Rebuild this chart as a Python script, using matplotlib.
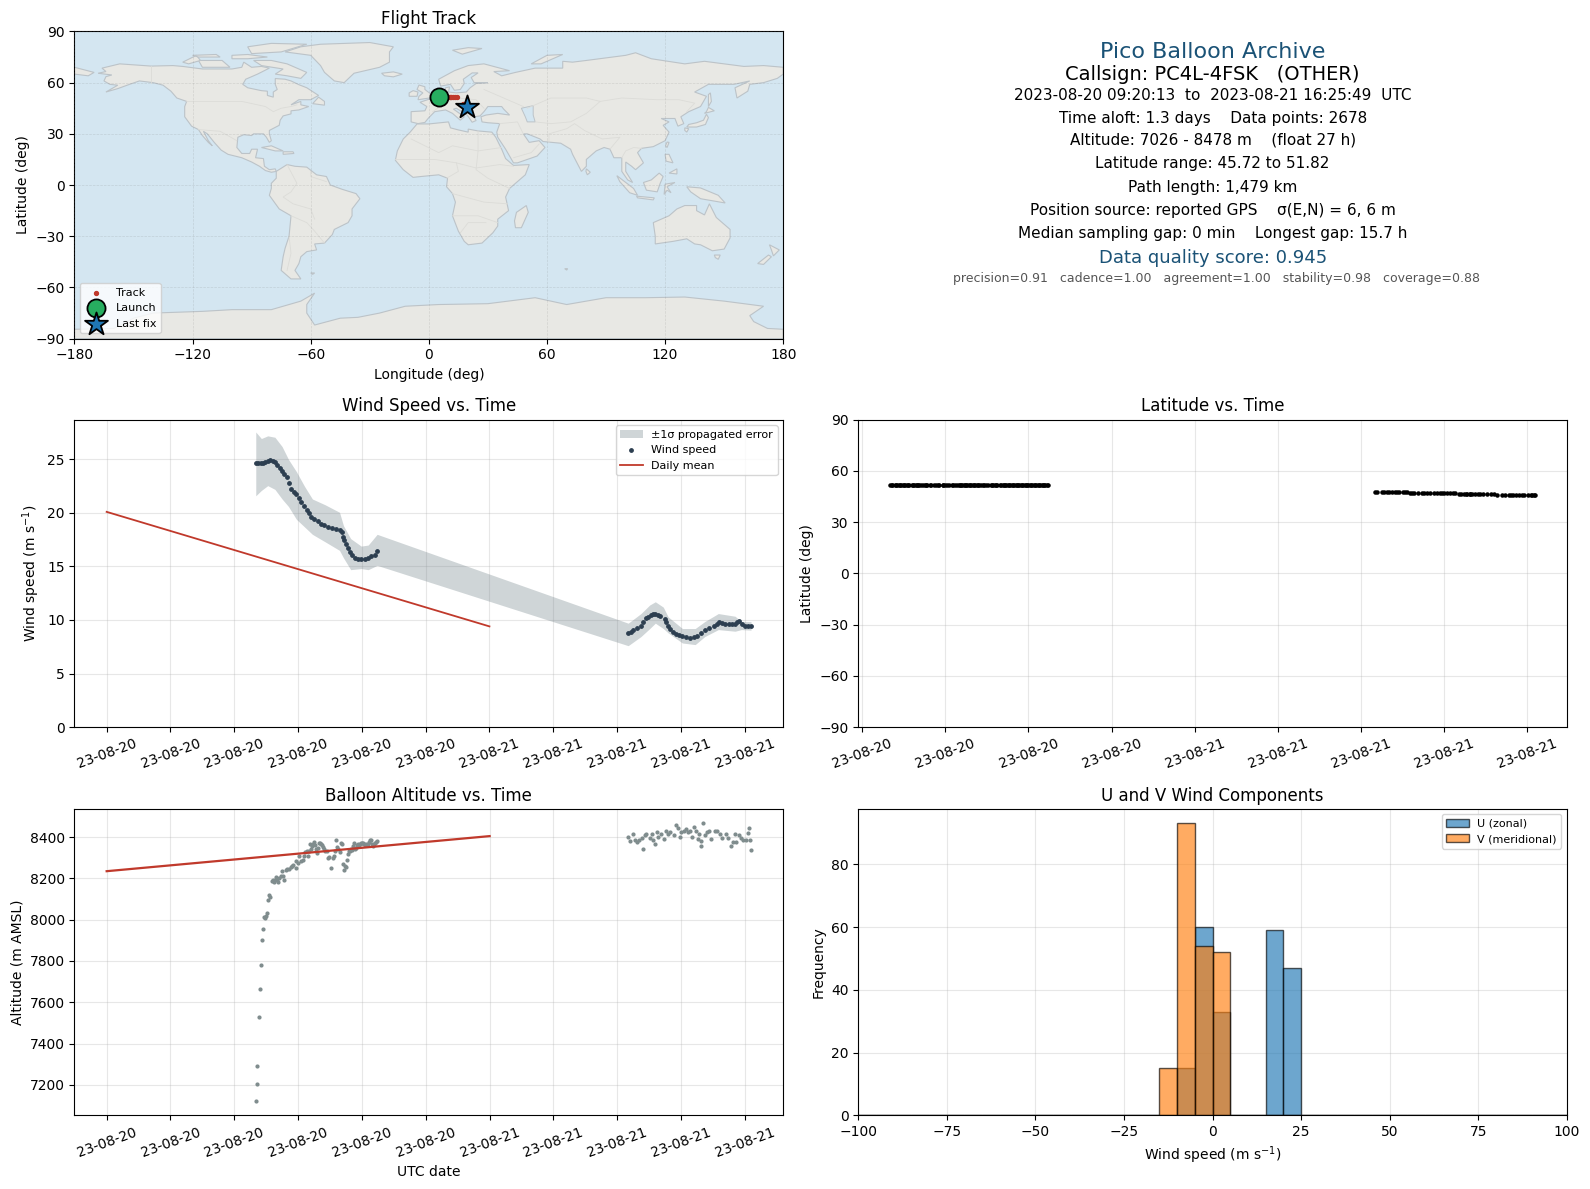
from datetime import datetime, timedelta
import matplotlib
matplotlib.use("Agg")
import matplotlib.pyplot as plt
import matplotlib.dates as mdates

# --- coarse land outlines (lon, lat) ---
north_america = [(-168,65.5),(-164,66.5),(-166,68.5),(-157,71),(-141,69.7),(-130,70),(-125,69.5),(-115,68),(-108,68),(-100,68),(-95,69),(-94,72),(-90,69),(-85,69.5),(-81,68.5),(-87,65),(-93,62),(-94.5,59),(-92,57),(-85,55.3),(-82,55),(-82,52.5),(-79,51.5),(-79,54.5),(-77,56),(-78,59),(-78,62.4),(-73,62),(-70,61),(-66,58.8),(-62,57),(-56,52.5),(-60,50),(-66,50),(-70,47),(-65,49),(-65,47),(-61,46),(-66,44),(-70,43.5),(-70,41.7),(-74,40.5),(-75.5,38),(-76,35),(-81,32),(-81,30),(-80,26),(-81,25),(-82.5,28),(-84,30),(-89,30),(-90,29),(-94,29.5),(-97,28),(-97.5,22),(-95,18.5),(-91,18.5),(-90,21),(-87,21),(-88,16),(-84,15.5),(-83.5,11),(-81,9),(-78,9.5),(-77.5,8),(-80,7.5),(-83,8.5),(-86,11),(-90,13.5),(-95,16),(-102,18),(-105.5,20.5),(-109,25),(-112.5,30),(-114.5,31.5),(-112,26),(-110,23),(-112,25),(-115,29),(-117,32.5),(-120.5,34.5),(-124,40),(-124,46),(-123,49),(-128,51),(-131,55),(-135,58.5),(-140,60),(-147,61),(-152,59),(-158,56.5),(-164,54.5),(-158,58.5),(-162,59),(-165,61),(-164,63.5),(-161,64.5)]
south_america = [(-77.5,8),(-72,12),(-68,11),(-62,10.5),(-57,6),(-52,5),(-50,0),(-44,-2.5),(-37,-5),(-35,-8),(-39,-14),(-39,-18),(-41,-22),(-48,-26),(-49,-29),(-53,-34),(-58,-34.5),(-57,-38),(-62,-39),(-65,-42),(-66,-46),(-68,-50),(-65,-55),(-70,-55),(-75,-50),(-74,-42),(-73,-37),(-71,-30),(-70,-18),(-76,-14),(-81,-6),(-80,-2),(-80,1),(-77.5,4)]
africa = [(-6,35.8),(0,35.8),(10,37),(11,33.5),(15,32.3),(20,31),(20,32.8),(25,31.7),(32,31),(34,28),(37,21),(39,15.5),(43,11.5),(51,12),(49,6),(41,-2),(39,-7),(40.5,-15),(35,-20),(35,-24),(32.5,-28),(27,-34),(20,-35),(18,-33),(15,-27),(12,-18),(13.5,-10),(12,-5),(9,-1),(9.5,4),(5,6),(-4,5),(-8,4.5),(-13,9),(-17,14.5),(-16,20),(-13,27),(-9.5,31)]
eurasia = [(-9,37),(-9,43),(-2,43.5),(-1,46),(-4.5,48.5),(2,51),(8,54),(8.5,57),(10.5,57.5),(10,54.5),(14,54),(19,54.5),(21,57),(24,59.5),(30,60),(23,60),(21.5,63),(25,65.7),(22,65.7),(17.5,62),(18,59.5),(16,56),(13,55.5),(11,59),(6,58),(5,62),(13,67),(20,70),(28,71),(41,67),(33,66.5),(37,64),(44,66),(54,68.5),(68,68.5),(68,72.5),(73,72),(80,73),(100,76),(105,77.5),(113,74),(130,71),(140,72.5),(160,69.5),(170,70),(180,69),(180,65),(177,62.5),(170,60),(163,59),(162,55),(156.5,51),(155.5,57),(163,61),(155,59),(142,59),(135,54.5),(141,52),(138,46),(132,43),(128,40),(129.5,36),(126.5,34.5),(125,39),(121,39),(118,39),(122,37),(119,35),(122,31),(120,26),(114,22.5),(108,21.5),(106,19),(109,13),(105,9),(103,11),(100,13.5),(100,8),(103.5,1.5),(101,3),(98,8),(98,16),(94,16),(92,21),(89,22),(85,20),(80,15),(80,11),(77.5,8),(73,18),(72,21),(67,24.5),(58,25.5),(56.5,27),(50,30),(48,30),(51,25),(56,26),(59,22),(55,17),(45,13),(43,13),(39,21),(35,28),(34.5,31),(36,36),(30,36.5),(27,37),(26.5,40),(29,41),(35,42),(41,41),(38,44.5),(37,46),(33,46),(30,46),(28,43),(26,40.5),(23,40),(24,37.8),(22,36.8),(19.5,41),(14,45),(12.5,44.5),(18,40),(16,38),(12,42),(8.5,44),(3,43),(0,39.5),(-2,36.7),(-5.5,36)]
australia = [(114,-22),(122,-18),(126,-14),(130,-12),(136,-12),(136,-15),(140,-17.5),(142.5,-11),(146,-19),(153,-26),(153,-31),(150,-37.5),(144,-38.5),(138,-35),(135,-34.5),(131,-31.5),(124,-33),(115,-34.5),(115,-30)]
antarctica = [(-180,-90),(-180,-84.5),(-160,-84),(-150,-78),(-140,-75),(-115,-74),(-100,-73),(-80,-73),(-65,-68),(-58,-63.3),(-62,-70),(-62,-75),(-58,-82),(-45,-78),(-36,-77.5),(-25,-75),(-12,-71),(5,-70),(30,-69.5),(54,-66),(70,-70),(75,-69),(90,-66),(110,-66),(130,-65.6),(150,-68),(170,-71),(163,-76.5),(165,-80),(172,-84),(180,-84.5),(180,-90)]
greenland = [(-73,78),(-60,76),(-55,70),(-53,66),(-48,61),(-43,60),(-38,65.5),(-25,69),(-20,72),(-20,78),(-18,81),(-30,83.5),(-55,82.5),(-65,81)]
islands = [
    [(-80,73),(-72,71),(-62,66),(-65,62.5),(-72,64),(-78,65),(-74,68),(-85,70),(-89,73)],
    [(-117,73),(-105,73),(-101,69),(-115,69)],
    [(-90,77),(-75,78),(-62,82.5),(-80,83),(-92,81)],
    [(-125,72),(-118,76),(-116,73),(-122,71)],
    [(-100,76),(-92,76.5),(-82,75),(-92,74),(-100,74)],
    [(-120,76),(-108,76.5),(-106,75),(-117,75)],
    [(-59,47.7),(-53,46.8),(-53,49),(-56,51.5)],
    [(-85,22),(-80,23),(-74,20),(-78,20)],
    [(-74,19.5),(-69,19.5),(-68.5,18.5),(-74,18)],
    [(-24,65.5),(-18,66.3),(-13.5,65),(-18,63.4),(-22.5,64)],
    [(-5.5,50),(1.5,51.2),(1.7,52.7),(-2,56),(-2,57.6),(-5,58.6),(-6,56),(-3,54),(-5,52)],
    [(-10,52),(-6,52),(-5.5,54.5),(-8,55.3),(-10,54)],
    [(12,79),(20,80.5),(27,80),(17,76.7)],
    [(52,71),(57,71),(68,76.5),(60,76)],
    [(-180,69),(-170,66),(-173,64),(-180,65)],
    [(131,34),(136,34),(140.5,35.5),(142,39.5),(141,41.5),(139.5,38),(136,36.5),(132,35.5)],
    [(140,42),(145,43.5),(142,45.5),(141,43)],
    [(130,33.5),(132,33),(131,31),(130,32)],
    [(142,46),(143.5,49),(143,54),(142,53)],
    [(120.2,23),(121,22),(122,25),(121,25.2)],
    [(80,9.5),(82,7.5),(80.5,6),(79.8,8)],
    [(120,18),(122,18),(124,13),(120.5,14)],
    [(122,7),(126,9.5),(126,6.5)],
    [(95.5,5.5),(104,-2),(106,-6),(102,-4.5),(97,2)],
    [(105.5,-6.5),(114.5,-7.5),(114,-8.7),(106,-7.5)],
    [(109,1.5),(113,3),(117,7),(119,5),(117.5,1),(116,-4),(110.5,-3)],
    [(119.5,-5.5),(120,0.5),(125,1.5),(121,-1),(123,-4.5),(121,-3)],
    [(131,-1),(138,-1.7),(147,-6),(150.5,-10.5),(143,-9),(138,-8),(133,-4)],
    [(145,-41),(148,-41),(147,-43.5),(145.5,-42.5)],
    [(173,-35),(178,-38),(175,-41.5),(174,-38)],
    [(172.5,-41),(174,-42),(170,-46.5),(167,-46)],
    [(49.5,-12),(50.5,-16),(47,-25),(44,-25),(43.5,-21),(44.5,-16)],
    [(-60,-51.5),(-58,-51.5),(-59,-52.3)],
    [(69,-49),(70.5,-49),(70,-49.8)],
]
caspian = [(47,45),(53,46.5),(53,41),(54,37),(50,37),(49,40)]
borders = [
    [(-123,49),(-95,49),(-83,46),(-79,43),(-75,45),(-70,46),(-67,47)],
    [(-141,69.7),(-141,60)],
    [(-117,32.5),(-106,31.5),(-97.5,26)],
    [(-70,-18),(-62,-22),(-58,-27),(-53,-34)],
    [(-72,12),(-67,1),(-70,-4),(-74,-7),(-69,-11),(-60,-14),(-58,-20)],
    [(-71,-30),(-70,-40),(-72,-50)],
    [(-60,8),(-60,5),(-52,2)],
    [(-9,27),(5,19),(12,23),(25,20),(37,22)],
    [(25,31.7),(25,20),(24,9),(30,4),(41,-2)],
    [(-17,15),(3,15),(14,13),(24,10),(36,12),(43,11)],
    [(9,4),(15,8),(14,13)],
    [(12,-5),(28,-10),(40,-11)],
    [(12,-18),(25,-18),(35,-22)],
    [(16,-28),(20,-22),(29,-22)],
    [(28,45),(24,50),(14,51),(8,48),(2,43)],
    [(28,56),(40,50),(48,46)],
    [(50,45),(62,51),(80,51),(87,49),(98,51),(116,50),(127,50),(135,48),(131,43)],
    [(54,37),(62,36),(72,37),(80,42),(87,49)],
    [(61,25),(61,30),(70,33),(74,36),(79,32),(88,27),(97,28),(92,21)],
    [(36,36),(45,37),(48,30)],
    [(98,16),(100,20),(104,22),(108,21.5)],
    [(43,16),(52,19),(56,24)],
]

# --- track ---
track_lon = [5.4,6.5,7.5,8.5,9.5,10.5,11.5,12.5,13.4,14.3,17.6,18.0,18.5,19.0,19.4]
track_lat = [51.8,51.82,51.82,51.8,51.82,51.82,51.8,51.82,51.8,51.8,47.7,47.2,46.7,46.1,45.72]
launch_lon, launch_lat = 5.4, 51.3
last_lon, last_lat = 19.4, 45.6

# --- wind speed, hours after 2023-08-20 00:00 UTC ---
wind_hours = [9.35,9.5,9.65,9.8,9.95,10.1,10.23,10.4,10.54,10.7,10.85,11.0,11.15,11.31,
              11.44,11.58,11.75,11.9,12.05,12.2,12.4,12.56,12.7,12.83,13.0,13.25,13.45,13.65,13.88,14.15,14.4,14.6,14.75,
              14.82,14.9,15.0,15.13,15.27,15.4,15.54,15.75,15.96,16.2,16.4,16.6,16.8,16.96,
              32.7,32.85,33.0,33.25,33.5,33.65,33.8,33.95,34.1,34.25,34.4,34.55,34.7,35.0,35.1,35.2,35.35,35.5,35.7,35.9,
              36.1,36.35,36.6,36.8,37.0,37.25,37.5,37.75,38.05,38.25,38.4,38.6,38.8,39.0,39.2,39.4,39.55,39.65,39.85,40.0,40.2,40.4]
wind_speed = [24.63,24.65,24.65,24.66,24.72,24.82,24.9,24.85,24.75,24.5,24.17,23.95,23.65,23.36,
              22.8,22.2,22.0,21.76,21.4,21.0,20.65,20.3,20.0,19.66,19.45,19.2,19.0,18.85,18.7,18.6,18.5,18.38,18.25,
              17.75,17.45,17.07,16.7,16.36,16.05,15.8,15.7,15.65,15.7,15.8,15.95,16.05,16.4,
              8.77,8.92,9.07,9.25,9.45,9.85,10.16,10.3,10.47,10.55,10.6,10.5,10.4,10.06,9.8,9.4,9.15,8.9,8.7,8.6,
              8.5,8.42,8.35,8.4,8.5,8.8,9.07,9.25,9.45,9.65,9.85,9.72,9.63,9.62,9.63,9.63,9.8,9.9,9.65,9.45,9.42,9.4]
band_hours = [9.35,9.7,10.1,10.55,11,11.4,11.9,12.4,12.9,13.7,14.6,14.85,15.3,15.96,16.4,16.96,
              32.7,33.5,34.05,34.4,34.9,35.2,36.1,36.9,37.5,38.35,39.4,39.8,40.4]
band_upper = [27.56,26.95,27.2,27.07,26.2,25,23.85,22.5,21.3,20.76,20.06,18.8,17.6,16.9,17,18,
              9.7,10.6,11.4,11.7,11.2,10.3,9.2,9.2,9.85,10.6,10.35,9.85,9.85]
band_lower = [21.6,22.1,22.55,22.2,21.3,20.6,19.4,18.7,18.0,17.3,16.5,15.8,14.7,14.8,14.7,15.1,
              7.6,8.45,9.2,9.7,9.2,8.8,7.85,7.7,8.45,9.1,8.95,9.1,9.05]
mean_hours = [0, 24]
mean_wind = [20.1, 9.4]

# --- altitude ---
alt_hours = [9.35,9.44,9.44,9.56,9.63,9.69,9.75,9.81,9.88,9.94,10.0,10.06,10.13,10.19,10.25,10.38,10.44,10.5,10.56,10.63,10.69,10.75,10.81,10.94,11.0,11.06,11.13,11.25,11.31,11.44,11.56,11.63,11.69,11.88,11.88,12.0,12.06,12.19,12.31,12.38,12.44,12.56,12.63,12.69,12.75,12.81,12.88,12.94,13.0,13.06,13.13,13.19,13.25,13.31,13.38,13.44,13.5,13.56,13.63,13.69,13.81,13.88,13.94,14.06,14.19,14.25,14.31,14.38,14.44,14.5,14.63,14.69,14.75,14.81,14.88,14.94,15.0,15.06,15.13,15.19,15.25,15.31,15.38,15.44,15.5,15.56,15.63,15.69,15.75,15.81,15.88,15.94,16.0,16.06,16.13,16.19,16.25,16.31,16.38,16.44,16.5,16.56,16.63,16.69,16.75,16.81,16.88,16.94,
             32.69,32.79,33.0,33.1,33.25,33.38,33.52,33.63,33.73,33.83,34.04,34.15,34.25,34.35,34.46,34.56,34.77,34.94,35.04,35.19,35.33,35.54,35.67,35.81,35.92,36.02,36.17,36.29,36.44,36.54,36.71,36.81,36.96,37.06,37.13,37.25,37.25,37.38,37.5,37.63,37.75,37.88,38.1,38.25,38.42,38.58,38.79,38.94,39.15,39.25,39.35,39.46,39.63,39.77,39.88,40.04,40.21,40.25,40.33,40.38]
altitude = [7122,7203,7290,7528,7664,7780,7902,7955,8015,8008,8020,8033,8096,8120,8110,8188,8190,8182,8193,8206,8198,8182,8203,8214,8235,8214,8193,8241,8246,8246,8254,8262,8266,8251,8282,8275,8308,8284,8287,8311,8327,8332,8311,8335,8368,8343,8355,8368,8376,8360,8343,8324,8348,8372,8374,8368,8360,8351,8343,8332,8332,8300,8306,8251,8300,8311,8335,8384,8351,8343,8327,8371,8368,8271,8241,8262,8254,8290,8319,8335,8335,8343,8339,8355,8371,8343,8348,8360,8368,8360,8368,8374,8372,8374,8368,8363,8368,8364,8368,8376,8384,8387,8368,8355,8368,8372,8376,8381,
            8400,8381,8413,8384,8376,8387,8397,8343,8408,8416,8397,8416,8384,8368,8424,8400,8416,8392,8432,8416,8424,8408,8457,8445,8400,8424,8432,8440,8424,8429,8403,8449,8432,8392,8416,8381,8356,8470,8408,8424,8432,8392,8432,8429,8416,8397,8416,8397,8355,8376,8416,8376,8408,8397,8387,8384,8419,8445,8387,8339]

# --- latitude, at the altitude fix times ---
latitude = [51.82,51.8,51.82,51.82,51.8,51.82,51.82,51.82,51.8,51.82,51.82,51.82,51.8,51.82,51.82,51.82,51.8,51.82,51.82,51.82,51.8,51.82,51.82,51.82,51.8,51.82,51.82,
            51.82,51.8,51.82,51.82,51.82,51.8,51.82,51.82,51.82,51.8,51.82,51.82,51.82,51.8,51.82,51.82,51.82,51.8,51.82,51.82,51.82,51.8,51.82,51.82,51.82,51.8,51.82,
            51.82,51.82,51.8,51.82,51.82,51.82,51.8,51.82,51.82,51.82,51.8,51.82,51.82,51.82,51.8,51.82,51.82,51.82,51.8,51.82,51.82,51.82,51.8,51.82,51.82,51.82,51.8,
            51.82,51.82,51.82,51.8,51.82,51.82,51.82,51.8,51.82,51.82,51.82,51.8,51.82,51.82,51.82,51.8,51.82,51.82,51.82,51.8,51.82,51.82,51.82,51.8,51.82,51.82,51.8,
            47.8,47.8,47.8,47.75,47.75,47.75,47.7,47.7,47.7,47.65,47.65,47.6,47.6,
            47.4,47.35,47.3,47.3,47.3,47.3,47.25,47.25,47.25,47.2,47.2,47.2,47.15,47.15,47.1,
            46.9,46.85,46.8,46.8,46.75,46.75,46.7,46.7,46.7,46.65,46.65,46.6,46.6,46.6,46.55,46.5,46.5,
            46.2,46.15,46.1,46.05,46.0,46.0,45.95,45.95,45.9,45.9,45.85,45.8,45.8,45.75,45.72]
mean_alt = [8235, 8405]

# --- histogram ---
bin_edges = list(range(-100, 105, 5))
u_centers = [-7.5, -2.5, 2.5, 17.5, 22.5]
u_counts = [15, 60, 33, 59, 47]
v_centers = [-12.5, -7.5, -2.5, 2.5]
v_counts = [15, 93, 54, 52]

RED = "#c0392b"
NAVY = "#1a5276"
start = datetime(2023, 8, 20)


def to_dates(hours):
    return [start + timedelta(hours=h) for h in hours]


def add_axes(left, top, w=699, h=303):
    # px positions as measured on the reference
    W, H = 1568.0, 1172.6
    return fig.add_axes([left / W, 1 - (top + h) / H, w / W, h / H])


def date_axis(ax):
    ax.xaxis.set_major_locator(mdates.HourLocator(byhour=range(0, 24, 4)))
    ax.xaxis.set_major_formatter(mdates.DateFormatter("%y-%m-%d"))
    ax.tick_params(axis="x", rotation=20)
    ax.grid(True, alpha=0.3)
    ax.set_axisbelow(True)


fig = plt.figure(figsize=(15.9, 11.89), dpi=100)

# Flight track
ax = add_axes(73.4, 31)
ax.set_facecolor("#d4e6f1")
for shape in [north_america, south_america, africa, eurasia, australia, antarctica, greenland] + islands:
    ax.fill([p[0] for p in shape], [p[1] for p in shape], fc="#e8e8e4", ec="#bcc3c8", lw=0.8, zorder=1)
ax.fill([p[0] for p in caspian], [p[1] for p in caspian], fc="#d4e6f1", ec="#bcc3c8", lw=0.7, zorder=1.1)
for line in borders:
    ax.plot([p[0] for p in line], [p[1] for p in line], color="#dcdcd8", lw=0.6, zorder=1.2)
ax.grid(True, ls="--", lw=0.5, alpha=0.2, color="#777777", zorder=2)
ax.set_axisbelow(False)
ax.scatter(track_lon, track_lat, s=8, color=RED, label="Track", zorder=3)
ax.scatter(launch_lon, launch_lat, s=170, color="#27ae60", edgecolor="black", lw=1.3, label="Launch", zorder=4)
ax.scatter(last_lon, last_lat, s=300, marker="*", color="#1f77b4", edgecolor="black", lw=1.3, label="Last fix", zorder=5)
ax.set_xlim(-180, 180)
ax.set_ylim(-90, 90)
ax.set_xticks(range(-180, 181, 60))
ax.set_yticks(range(-90, 91, 30))
ax.set_xlabel("Longitude (deg)")
ax.set_ylabel("Latitude (deg)")
ax.set_title("Flight Track", fontsize=12, pad=5)
ax.legend(loc="lower left", fontsize=8, framealpha=0.8)

# Summary text
cx = 1195.9
summary = [
    (51, "Pico Balloon Archive", 16, NAVY, cx),
    (73, "Callsign: PC4L-4FSK   (OTHER)", 14, "black", cx),
    (94, "2023-08-20 09:20:13  to  2023-08-21 16:25:49  UTC", 11, "black", cx),
    (116.5, "Time aloft: 1.3 days    Data points: 2678", 11, "black", cx),
    (138.5, "Altitude: 7026 - 8478 m    (float 27 h)", 11, "black", cx),
    (161.5, "Latitude range: 45.72 to 51.82", 11, "black", cx),
    (184.5, "Path length: 1,479 km", 11, "black", cx),
    (207.5, "Position source: reported GPS    σ(E,N) = 6, 6 m", 11, "black", cx),
    (230.5, "Median sampling gap: 0 min    Longest gap: 15.7 h", 11, "black", cx),
    (254.5, "Data quality score: 0.945", 13, NAVY, cx),
    (275, "precision=0.91   cadence=1.00   agreement=1.00   stability=0.98   coverage=0.88", 9, "#555555", cx + 3.5),
]
for y, txt, size, col, x in summary:
    fig.text(x / 1568.0, 1 - y / 1172.6, txt, fontsize=size, color=col, ha="center", va="center")

# Wind speed
ax = add_axes(73.4, 414)
ax.fill_between(to_dates(band_hours), band_lower, band_upper, color="#6f8087", alpha=0.33, lw=0, label="±1σ propagated error")
ax.scatter(to_dates(wind_hours), wind_speed, s=6, color="#2c3e50", label="Wind speed", zorder=3)
ax.plot(to_dates(mean_hours), mean_wind, color=RED, lw=1.3, label="Daily mean", zorder=2)
ax.set_ylim(0, 28.7)
date_axis(ax)
ax.set_ylabel(r"Wind speed (m s$^{-1}$)")
ax.set_title("Wind Speed vs. Time", fontsize=12, pad=6)
ax.legend(loc="upper right", fontsize=8)

# Latitude
ax = add_axes(846.3, 414)
ax.scatter(to_dates(alt_hours), latitude, s=5, color="black")
ax.set_ylim(-90, 90)
ax.set_yticks(range(-90, 91, 30))
date_axis(ax)
ax.set_ylabel("Latitude (deg)")
ax.set_title("Latitude vs. Time", fontsize=12, pad=6)

# Altitude
ax = add_axes(73.4, 797.5, h=302.5)
ax.scatter(to_dates(alt_hours), altitude, s=4, color="#7f8c8d", zorder=3)
ax.plot(to_dates(mean_hours), mean_alt, color=RED, lw=1.6, zorder=4)
ax.set_ylim(7052, 8538)
date_axis(ax)
ax.set_xlabel("UTC date")
ax.xaxis.labelpad = 4
ax.set_ylabel("Altitude (m AMSL)")
ax.set_title("Balloon Altitude vs. Time", fontsize=12, pad=5.5)

# Components
ax = add_axes(846.3, 797.5, h=302.5)
ax.hist(u_centers, bins=bin_edges, weights=u_counts, color="#1f77b4", alpha=0.65, edgecolor="black", label="U (zonal)")
ax.hist(v_centers, bins=bin_edges, weights=v_counts, color="#ff7f0e", alpha=0.65, edgecolor="black", label="V (meridional)")
ax.set_xlim(-100, 100)
ax.set_ylim(0, 97.7)
ax.grid(True, alpha=0.3)
ax.set_axisbelow(True)
ax.set_xlabel(r"Wind speed (m s$^{-1}$)")
ax.set_ylabel("Frequency")
ax.set_title("U and V Wind Components", fontsize=12, pad=5.5)
ax.legend(loc="upper right", fontsize=8)

fig.savefig("out.png", dpi=100)
